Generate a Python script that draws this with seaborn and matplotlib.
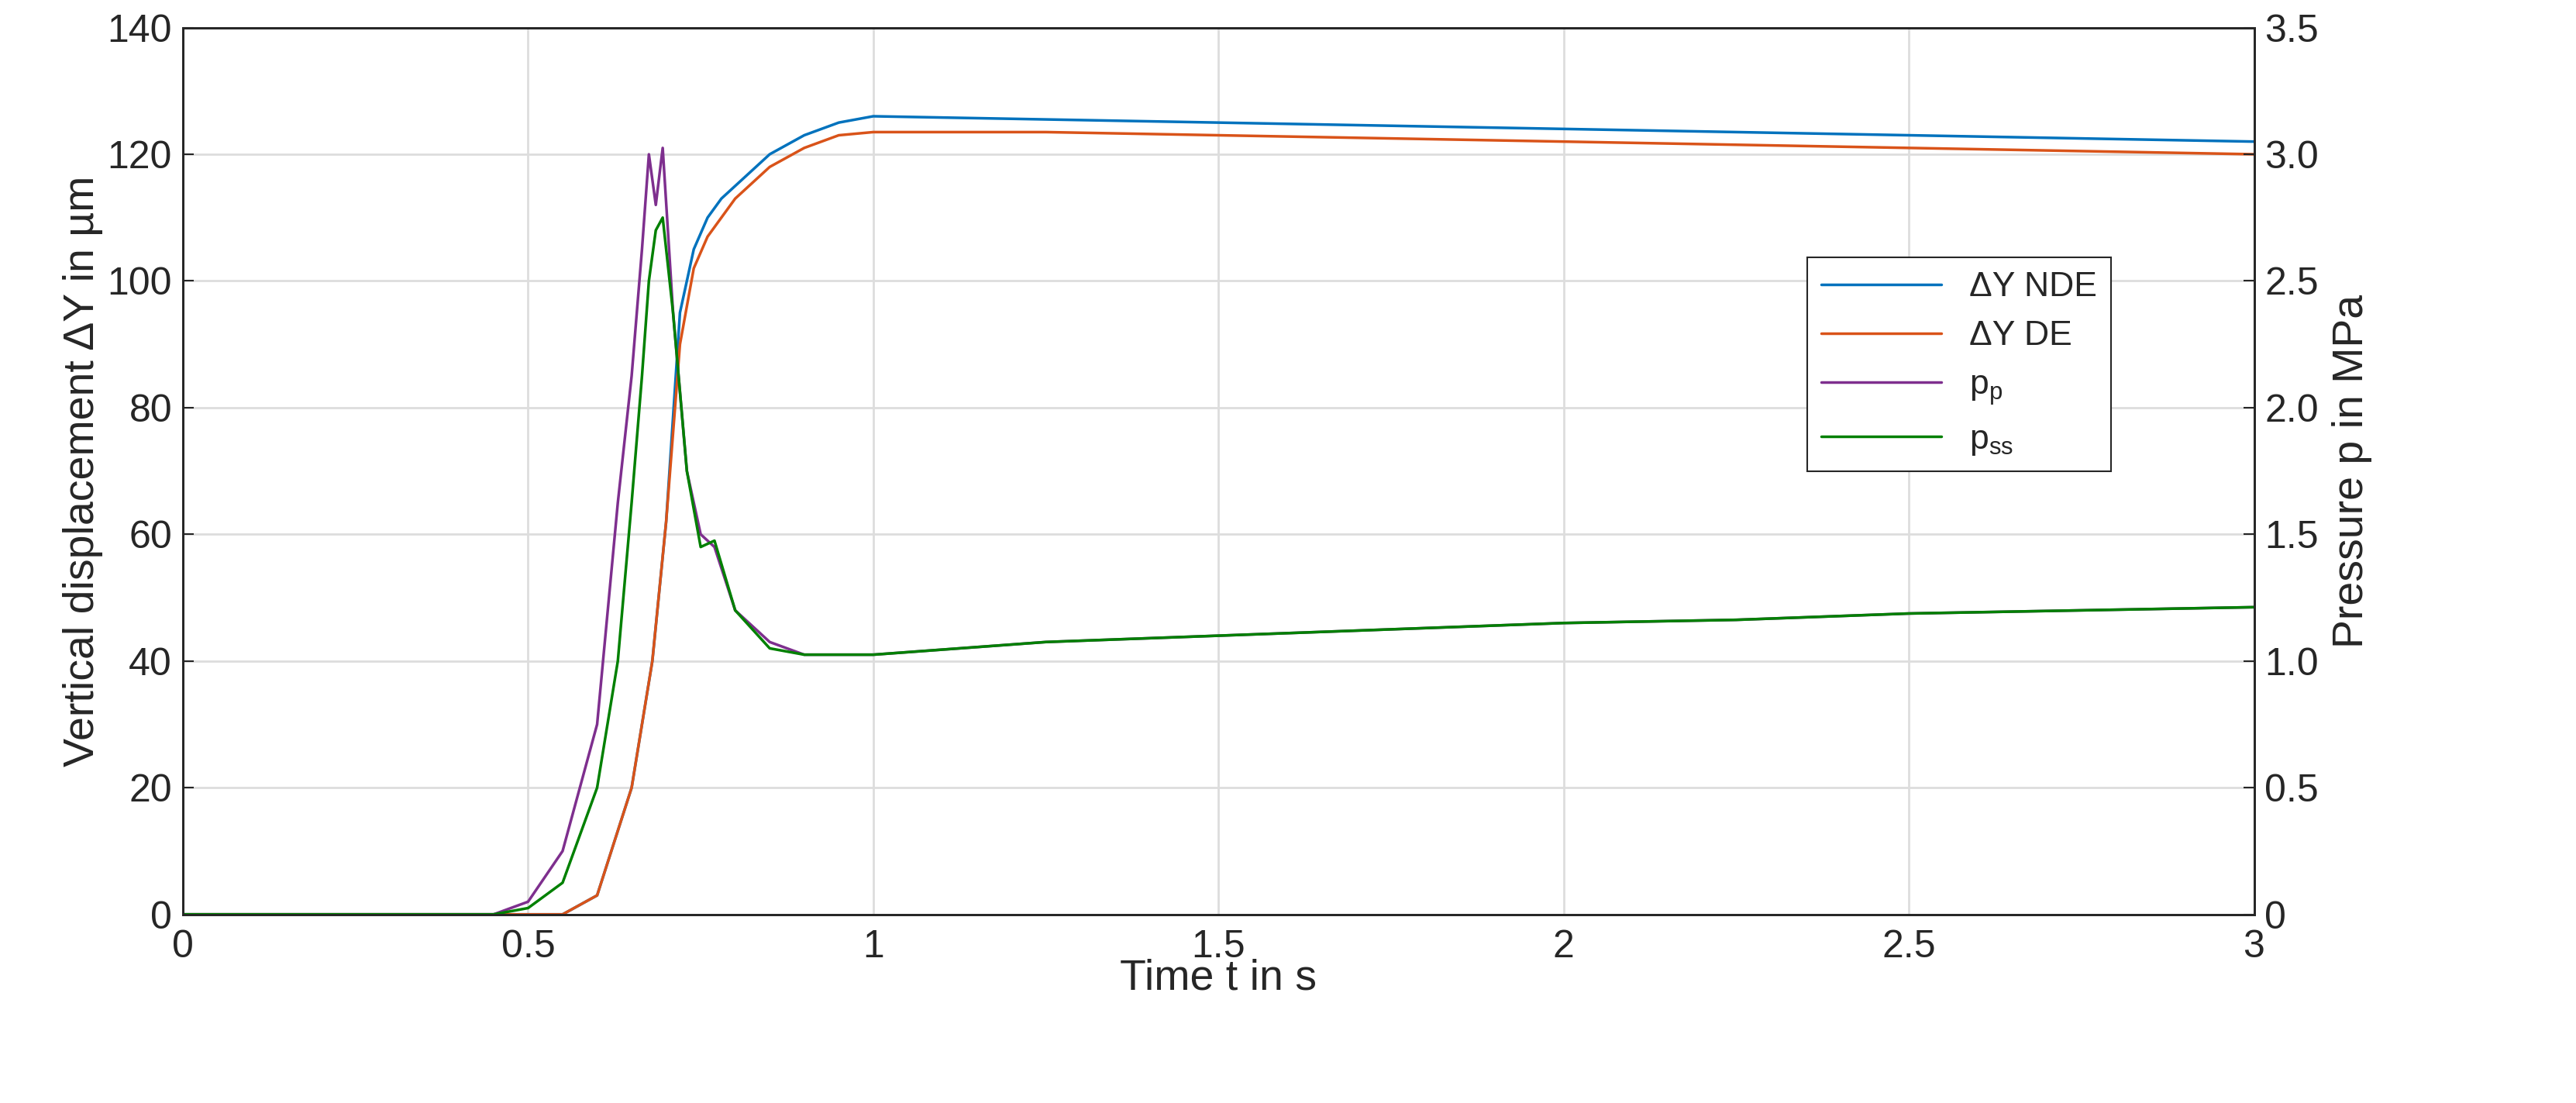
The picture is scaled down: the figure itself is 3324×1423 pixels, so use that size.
import matplotlib
matplotlib.use("Agg")
import matplotlib.pyplot as plt
import seaborn as sns
import pandas as pd

sns.set_style("white")
plt.rcParams['font.family'] = ['Liberation Sans', 'DejaVu Sans']

t_dy = [0, 0.5, 0.55, 0.6, 0.65, 0.68, 0.7, 0.72, 0.74, 0.76, 0.78, 0.8, 0.85, 0.9, 0.95, 1.0, 1.25, 1.5, 1.75, 2.0, 2.25, 2.5, 2.75, 3.0]
dy_nde = [0, 0, 0, 3, 20, 40, 62, 95, 105, 110, 113, 115, 120, 123, 125, 126, 125.5, 125, 124.5, 124, 123.5, 123, 122.5, 122]
dy_de = [0, 0, 0, 3, 20, 40, 62, 90, 102, 107, 110, 113, 118, 121, 123, 123.5, 123.5, 123, 122.5, 122, 121.5, 121, 120.5, 120]

t_p = [0, 0.45, 0.5, 0.55, 0.6, 0.63, 0.65, 0.665, 0.675, 0.685, 0.695, 0.71, 0.73, 0.75, 0.77, 0.8, 0.85, 0.9, 1.0, 1.25, 1.5, 1.75, 2.0, 2.25, 2.5, 2.75, 3.0]
p_p = [0, 0, 2, 10, 30, 65, 85, 105, 120, 112, 121, 95, 70, 60, 58, 48, 43, 41, 41, 43, 44, 45, 46, 46.5, 47.5, 48, 48.5]
p_ss = [0, 0, 1, 5, 20, 40, 65, 85, 100, 108, 110, 95, 70, 58, 59, 48, 42, 41, 41, 43, 44, 45, 46, 46.5, 47.5, 48, 48.5]
p_p_mpa = [v / 40 for v in p_p]
p_ss_mpa = [v / 40 for v in p_ss]

fig = plt.figure(figsize=(33.24, 14.23), dpi=100)
ax = fig.add_axes([0.071, 0.171, 0.804, 0.804])
ax2 = ax.twinx()

sns.lineplot(x=t_dy, y=dy_nde, ax=ax, color="#0072BD", lw=2.5, label="ΔY NDE", legend=False)
sns.lineplot(x=t_dy, y=dy_de, ax=ax, color="#D95319", lw=2.5, label="ΔY DE", legend=False)
sns.lineplot(x=t_p, y=p_p_mpa, ax=ax2, color="#7E2F8E", lw=2.5, label="$\\mathregular{p_p}$", legend=False)
sns.lineplot(x=t_p, y=p_ss_mpa, ax=ax2, color="#008000", lw=2.5, label="$\\mathregular{p_{ss}}$", legend=False)

ax.set_xlim(0, 3)
ax.set_ylim(0, 140)
ax2.set_ylim(0, 3.5)
ax.set_xticks([0, 0.5, 1, 1.5, 2, 2.5, 3])
ax.set_xticklabels(["0", "0.5", "1", "1.5", "2", "2.5", "3"])
ax.set_yticks(range(0, 141, 20))
ax2.set_yticks([0, 0.5, 1, 1.5, 2, 2.5, 3, 3.5])
ax2.set_yticklabels(["0", "0.5", "1.0", "1.5", "2.0", "2.5", "3.0", "3.5"])
ax.grid(True, color="#dddddd", lw=2)
for a in (ax, ax2):
    a.tick_params(labelsize=36, direction="in", length=10, width=1.5)
    for s in a.spines.values():
        s.set_color("#262626"); s.set_linewidth(2)
ax.tick_params(axis="x", pad=14)
ax.tick_params(axis="y", pad=10)
ax2.tick_params(axis="y", pad=10)
ax.set_xlabel("Time t in s", fontsize=40, labelpad=-6)
ax.set_ylabel("Vertical displacement ΔY in µm", fontsize=40)
ax2.set_ylabel("Pressure p in MPa", fontsize=40, labelpad=12)

h1, l1 = ax.get_legend_handles_labels()
h2, l2 = ax2.get_legend_handles_labels()
ax2.legend(h1 + h2, l1 + l2, loc="upper left", bbox_to_anchor=(0.776, 0.76), fontsize=32,
           frameon=True, fancybox=False, edgecolor="#262626", framealpha=1, handlelength=3.5)
ax2.get_legend().get_frame().set_linewidth(1.5)

fig.savefig("out.png", dpi=100)
